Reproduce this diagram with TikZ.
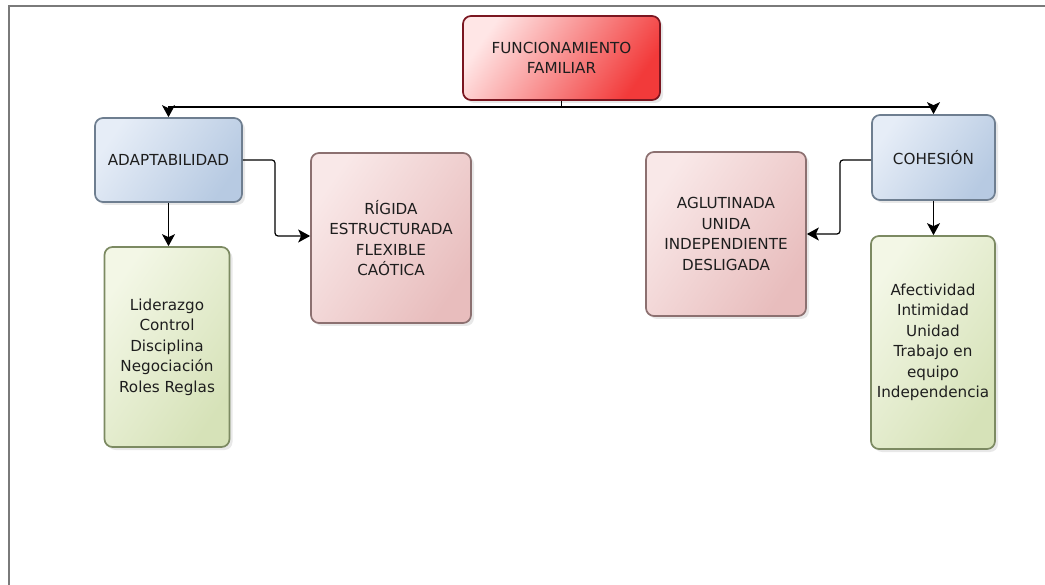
\documentclass[tikz,border=0pt]{standalone}
\usepackage{fontspec}
\setmainfont{DejaVu Sans}
\usetikzlibrary{arrows.meta,shadows}
\definecolor{txt}{HTML}{1E1E1E}
\definecolor{redA}{HTML}{FFE6E6}
\definecolor{redB}{HTML}{F23A3A}
\definecolor{redE}{HTML}{7A1620}
\definecolor{bluA}{HTML}{E6EDF7}
\definecolor{bluB}{HTML}{B7CAE2}
\definecolor{bluE}{HTML}{6E7E90}
\definecolor{pnkA}{HTML}{F9E8E8}
\definecolor{pnkB}{HTML}{E8BDBD}
\definecolor{pnkE}{HTML}{8C7070}
\definecolor{grnA}{HTML}{F3F7E6}
\definecolor{grnB}{HTML}{D6E2B8}
\definecolor{grnE}{HTML}{7C8A62}
\definecolor{frame}{HTML}{7A7A7A}
\tikzset{
  basebox/.style={rounded corners=8pt, line width=1.7pt, align=center, text=txt,
    inner sep=2pt, font=\fontsize{15.2}{20.5}\selectfont,
    drop shadow={opacity=0.18, shadow xshift=3pt, shadow yshift=-3pt}},
  funcbox/.style={basebox, draw=redE, left color=redA, right color=redB, shading angle=55},
  bluebox/.style={basebox, draw=bluE, left color=bluA, right color=bluB, shading angle=55},
  pinkbox/.style={basebox, draw=pnkE, left color=pnkA, right color=pnkB, shading angle=55},
  greenbox/.style={basebox, draw=grnE, left color=grnA, right color=grnB, shading angle=55},
  conn/.style={draw=black, line width=1.2pt, rounded corners=3pt,
    -{Stealth[length=12pt,width=13pt,inset=3pt]}},
  plain/.style={draw=black, line width=1.2pt}
}
\begin{document}
\begin{tikzpicture}[x=1pt,y=-1pt]
\useasboundingbox (0,0) rectangle (1045,585);
\fill[white] (0,0) rectangle (1045,585);
\draw[frame, line width=2pt] (9,585) -- (9,6.5) -- (1045,6.5);

\node[funcbox, minimum width=197pt, minimum height=84pt] (func) at (561.5,58) {FUNCIONAMIENTO\\FAMILIAR};
\node[bluebox, minimum width=147pt, minimum height=84pt] (adap) at (168.5,160) {ADAPTABILIDAD};
\node[pinkbox, minimum width=160pt, minimum height=170pt] (rig) at (391,238) {RÍGIDA\\ESTRUCTURADA\\FLEXIBLE\\CAÓTICA};
\node[greenbox, minimum width=125pt, minimum height=200pt] (lid) at (167,347) {Liderazgo\\Control\\Disciplina\\Negociación\\Roles Reglas};
\node[bluebox, minimum width=123pt, minimum height=85pt] (coh) at (933.5,157.5) {COHESIÓN};
\node[pinkbox, minimum width=160pt, minimum height=164pt] (agl) at (726,234) {AGLUTINADA\\UNIDA\\INDEPENDIENTE\\DESLIGADA};
\node[greenbox, minimum width=124pt, minimum height=213pt] (afe) at (933,342.5) {Afectividad\\Intimidad\\Unidad\\Trabajo en\\equipo\\Independencia};

\coordinate (split) at (561.5,107);
\draw[plain] (func.south) -- (split);
\draw[conn, rounded corners=0pt] (split) -| (adap.north);
\draw[conn, rounded corners=0pt] (split) -| (coh.north);
\draw[conn] (adap.east |- 0,160) -- (275,160) -- (275,236) -- (rig.west |- 0,236);
\draw[conn] (coh.west |- 0,160) -- (840,160) -- (840,234) -- (agl.east |- 0,234);
\draw[conn] (adap.south) -- (adap.south |- lid.north);
\draw[conn] (coh.south) -- (coh.south |- afe.north);
\end{tikzpicture}
\end{document}
